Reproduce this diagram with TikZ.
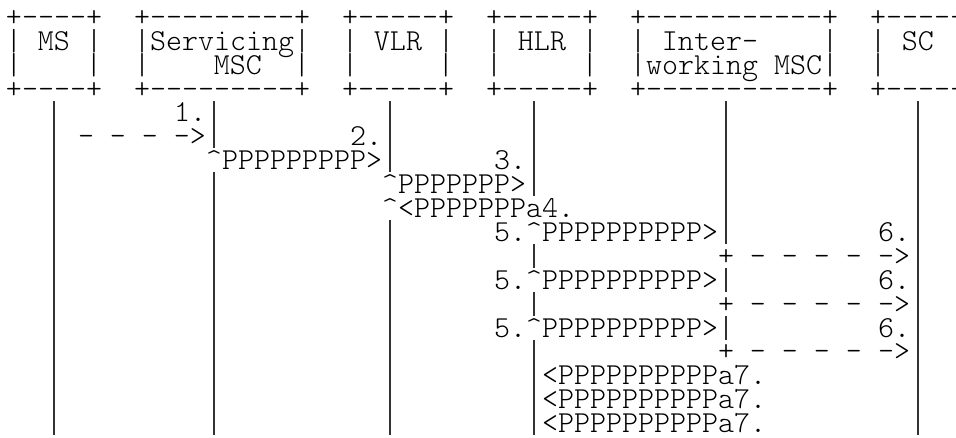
\documentclass[tikz,border=0pt]{standalone}
\usepackage{fontspec}
\setmonofont{Latin Modern Mono Light}
\tikzset{
  ascii/.style={inner sep=0pt, outer sep=0pt, anchor=base west, font=\ttfamily\fontsize{22.86}{18}\selectfont},
  lifeline/.style={line width=0.9pt, black!80}
}
\begin{document}
\begin{tikzpicture}[x=0.75pt, y=-0.75pt]
  \useasboundingbox (0,0) rectangle (956,437);

  \foreach \k/\r/\s [count=\i] in {
    0/0/{+----+}, 0/1/{|~MS~|}, 0/2/{|~~~~|}, 0/3/{+----+},
    8/0/{+---------+}, 8/1/{|Servicing|}, 8/2/{|~~~~MSC~~|}, 8/3/{+---------+},
    21/0/{+-----+}, 21/1/{|~VLR~|}, 21/2/{|~~~~~|}, 21/3/{+-----+},
    30/0/{+-----+}, 30/1/{|~HLR~|}, 30/2/{|~~~~~|}, 30/3/{+-----+},
    39/0/{+-----------+}, 39/1/{|~Inter-~~~~|}, 39/2/{|working~MSC|}, 39/3/{+-----------+},
    54/0/{+-----}, 54/1/{|~SC}, 54/2/{|}, 54/3/{+-----}}
    \node[ascii] (head\i) at (6+16*\k, 26.3+23.9*\r) {\s};

  \foreach \k/\a/\b in {2/4/17, 12/4/5, 12/7/17, 23/4/6, 23/9/17,
    32/4/7, 32/10/10, 32/12/12, 32/14/17, 44/4/9, 44/11/11, 44/13/13, 56/4/17}
    \draw[lifeline] (22+16*\k, 5+23.9*\a) -- (22+16*\k, 28.9+23.9*\b);

  \foreach \k/\r/\s [count=\i] in {
    10/4/{1.}, 4/5/{-~-~-~->}, 21/5/{2.},
    12/6/{\textasciicircum PPPPPPPPP>}, 30/6/{3.},
    23/7/{\textasciicircum PPPPPPP>},
    23/8/{\textasciicircum<PPPPPPPa4.},
    30/9/{5.\textasciicircum PPPPPPPPPP>}, 54/9/{6.}, 44/10/{+~-~-~-~-~->},
    30/11/{5.\textasciicircum PPPPPPPPPP>}, 54/11/{6.}, 44/12/{+~-~-~-~-~->},
    30/13/{5.\textasciicircum PPPPPPPPPP>}, 54/13/{6.}, 44/14/{+~-~-~-~-~->},
    33/15/{<PPPPPPPPPPa7.}, 33/16/{<PPPPPPPPPPa7.}, 33/17/{<PPPPPPPPPPa7.}}
    \node[ascii] (msg\i) at (14+16*\k, 26.3+23.9*\r) {\s};
\end{tikzpicture}
\end{document}
